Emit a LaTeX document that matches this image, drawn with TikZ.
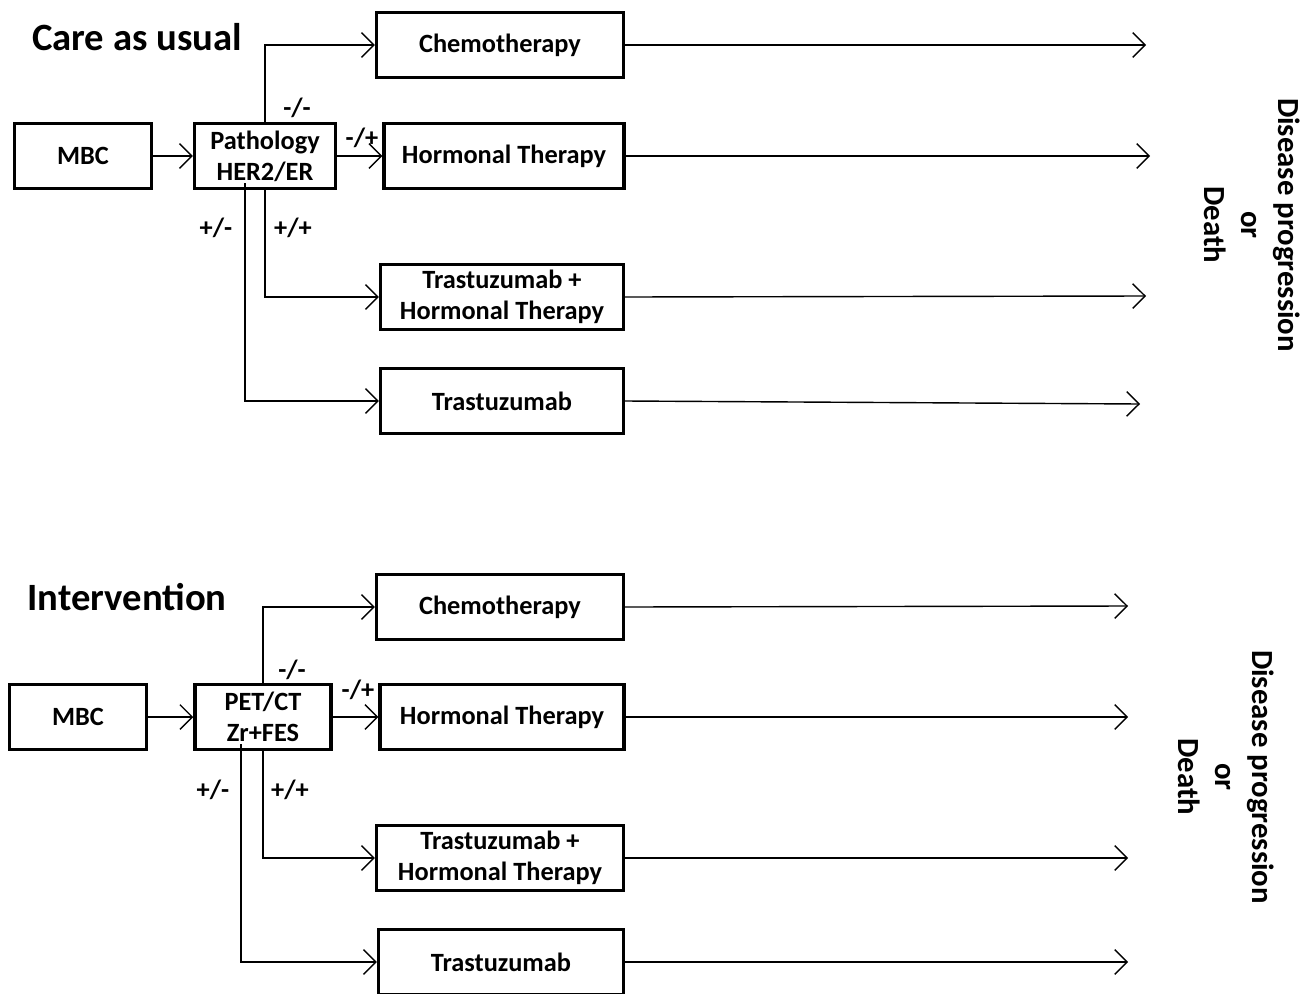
\documentclass[tikz,border=0pt]{standalone}
\usepackage{fontspec}
\setmainfont{Carlito}
\usetikzlibrary{arrows.meta, positioning}

\begin{document}
\begin{tikzpicture}[x=0.02cm, y=-0.02cm,
  box/.style={draw, line width=2pt, align=center, inner sep=0pt, minimum height=1.3cm, font=\bfseries\fontsize{15}{17.5}\selectfont},
  title/.style={font=\bfseries\fontsize{22}{26}\selectfont},
  lbl/.style={font=\bfseries\fontsize{15}{17}\selectfont},
  outcome/.style={rotate=-90, align=center, font=\bfseries\fontsize{17.5}{21}\selectfont},
  arr/.style={line width=0.8pt, -{Straight Barb[length=7pt, width=14pt, line width=0.8pt]}}]

\useasboundingbox (0,0) rectangle (1312,994);

% Care as usual
\node[title] (cauTitle) at (137,37) {Care as usual};
\node[box, minimum width=2.74cm] (cauMbc) at (83,156) {MBC};
\node[box, minimum width=2.82cm] (cauPath) at (265,156) {Pathology\\HER2/ER};
\node[box, minimum width=4.94cm] (cauChemo) at (500,45) {Chemotherapy};
\node[box, minimum width=4.8cm] (cauHorm) at (504,156) {Hormonal Therapy};
\node[box, minimum width=4.86cm] (cauTrHorm) at (502,297) {Trastuzumab +\\Hormonal Therapy};
\node[box, minimum width=4.86cm] (cauTrast) at (502,401) {Trastuzumab};
\node[outcome] (cauOut) at (1252,225) {Disease progression\\or\\Death};

\coordinate (cauPm) at (245,183);
\coordinate (cauEnd1) at (1146,45);
\coordinate (cauEnd2) at (1150,156);
\coordinate (cauEnd3) at (1146,296);
\coordinate (cauEnd4) at (1140,404);

\draw[arr] (cauMbc) -- (cauPath);
\draw[arr] (cauPath.north) |- (cauChemo.west);
\draw[arr] (cauPath) -- (cauHorm);
\draw[arr] (cauPath.south) |- (cauTrHorm.west);
\draw[arr] (cauPm) |- (cauTrast.west);
\draw[arr] (cauChemo.east) -- (cauEnd1);
\draw[arr] (cauHorm.east) -- (cauEnd2);
\draw[arr] (cauTrHorm.east) -- (cauEnd3);
\draw[arr] (cauTrast.east) -- (cauEnd4);

\node[lbl] (cauNN) at (297,108) {-/-};
\node[lbl] (cauNP) at (362,138) {-/+};
\node[lbl] (cauPN) at (216,228) {+/-};
\node[lbl] (cauPP) at (293,228) {+/+};

% Intervention
\node[title] (intTitle) at (127,597) {Intervention};
\node[box, minimum width=2.74cm] (intMbc) at (78,717) {MBC};
\node[box, minimum width=2.72cm] (intPet) at (263,717) {PET/CT\\Zr+FES};
\node[box, minimum width=4.94cm] (intChemo) at (500,607) {Chemotherapy};
\node[box, minimum width=4.88cm] (intHorm) at (502,717) {Hormonal Therapy};
\node[box, minimum width=4.94cm] (intTrHorm) at (500,858) {Trastuzumab +\\Hormonal Therapy};
\node[box, minimum width=4.9cm] (intTrast) at (501,962) {Trastuzumab};
\node[outcome] (intOut) at (1226,777) {Disease progression\\or\\Death};

\coordinate (intPm) at (241,744);
\coordinate (intEnd1) at (1128,606);
\coordinate (intEnd2) at (1128,717);
\coordinate (intEnd3) at (1128,858);
\coordinate (intEnd4) at (1128,962);

\draw[arr] (intMbc) -- (intPet);
\draw[arr] (intPet.north) |- (intChemo.west);
\draw[arr] (intPet) -- (intHorm);
\draw[arr] (intPet.south) |- (intTrHorm.west);
\draw[arr] (intPm) |- (intTrast.west);
\draw[arr] (intChemo.east) -- (intEnd1);
\draw[arr] (intHorm.east) -- (intEnd2);
\draw[arr] (intTrHorm.east) -- (intEnd3);
\draw[arr] (intTrast.east) -- (intEnd4);

\node[lbl] (intNN) at (292,670) {-/-};
\node[lbl] (intNP) at (358,690) {-/+};
\node[lbl] (intPN) at (213,790) {+/-};
\node[lbl] (intPP) at (290,790) {+/+};

\end{tikzpicture}
\end{document}
